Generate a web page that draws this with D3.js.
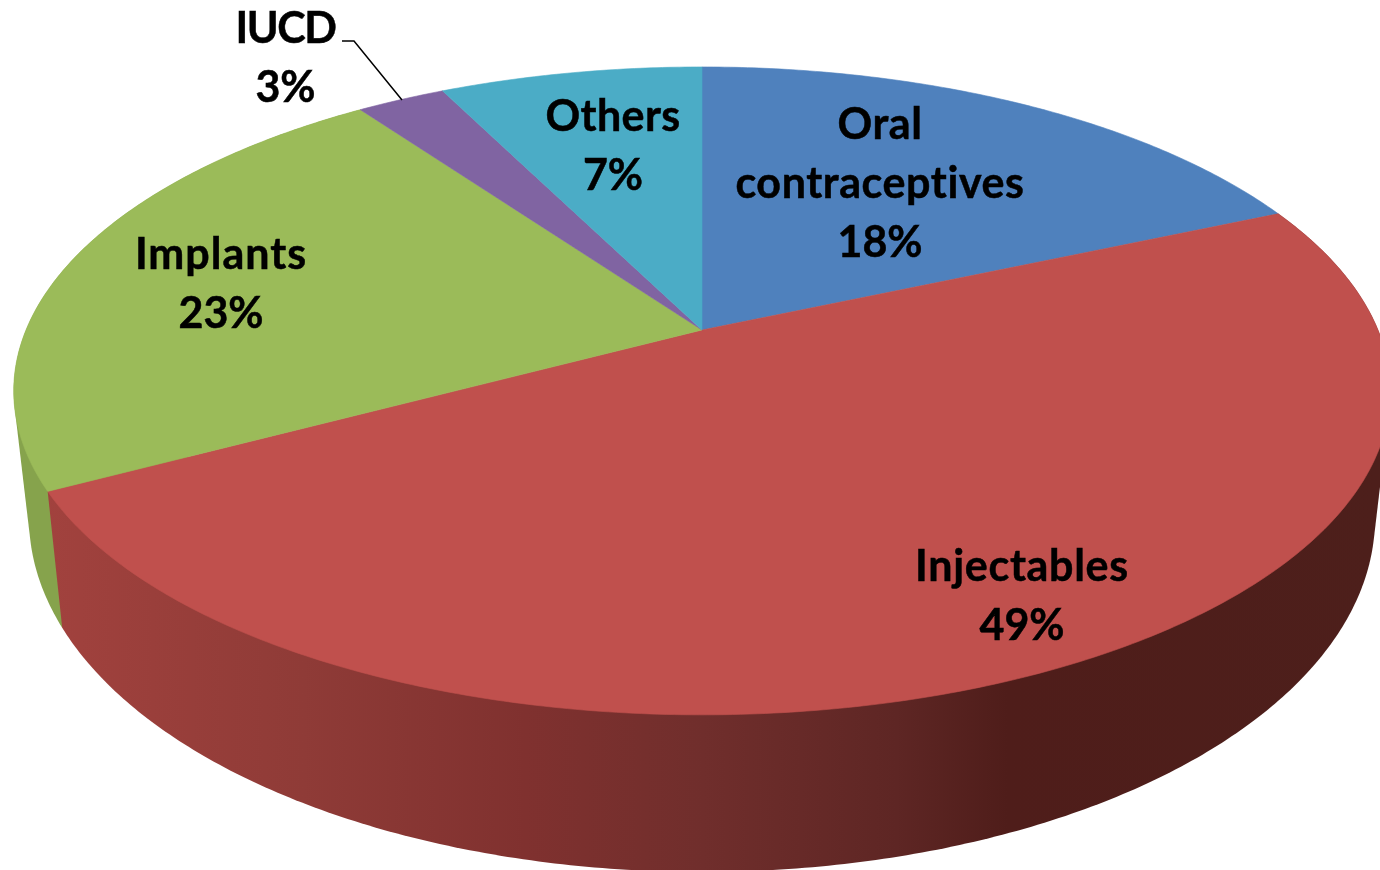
<!DOCTYPE html>
<meta charset="utf-8">
<style>
html, body { margin: 0; background: #fff; overflow: hidden; }
svg { display: block; filter: blur(0.5px); }
text {
    font-family: Lato, "Open Sans", sans-serif;
    font-weight: 700;
    font-size: 43px;
    font-variant-ligatures: none;
    fill: #000;
    stroke: #000;
    stroke-width: 0.5px;
}
</style>
<svg width="1380" height="870"></svg>
<script src="https://d3js.org/d3.v7.min.js"></script>
<script>

var categories = ["Oral contraceptives", "Injectables", "Implants", "IUCD", "Others"];
var shares = [18.45, 48.75, 22.9, 2.5, 7.4];
var colors = ["#4f81bd", "#c0504d", "#9bbb59", "#8064a2", "#4bacc6"];

// label lines and where each block is centred
var labelLines = [["Oral", "contraceptives"], ["Injectables"], ["Implants"], ["IUCD"], ["Others"]];
var labelAt = [[880, 139], [1022, 581], [221, 269], [285.5, 43], [613, 131]];
var labelSpacing = [0.6, 0.7, 1, -1.5, 0.4];

var svg = d3.select("svg");

// perspective disc: top face and the (hidden) lower rim of the pie
var topFace = { cx: 702, cy: 330, rx: 676, ry: 312.5 };
var lowFace = { cx: 702, cy: 451.4, rx: 661, ry: 341.5 };
var tilt = 0.188;

function project(face, a) {
    var u = Math.sin(a), v = Math.cos(a), w = 1 + tilt * v;
    return [face.cx + face.rx * u / w, face.cy - face.ry * v / w];
}

function arcPoints(face, a0, a1) {
    var n = Math.ceil((a1 - a0) / 0.01);
    return d3.range(n + 1).map(function(i) {
        return project(face, a0 + (a1 - a0) * i / n);
    });
}

var slices = d3.pie().sort(null).startAngle(0).endAngle(2 * Math.PI)(shares);

var defs = svg.append("defs");
var wallGrad = defs.append("linearGradient")
    .attr("id", "wall")
    .attr("gradientUnits", "userSpaceOnUse")
    .attr("x1", 0).attr("x2", 1380).attr("y1", 0).attr("y2", 0);
[[0.03, "#a2423e"], [0.22, "#8f3b37"], [0.38, "#80312f"], [0.51, "#702e2c"],
 [0.65, "#5e2624"], [0.73, "#4f1d1a"], [1, "#4d1f1b"]].forEach(function(s) {
    wallGrad.append("stop").attr("offset", s[0]).attr("stop-color", s[1]);
});

var line = d3.line();

function wallPath(d) {
    var pts = arcPoints(topFace, d.startAngle, d.endAngle)
        .concat(arcPoints(lowFace, d.startAngle, d.endAngle));
    return line(d3.polygonHull(pts)) + "Z";
}

// side walls, only the implants and injectables sides face the viewer
var walls = svg.append("g");
walls.append("path").attr("d", wallPath(slices[2])).attr("fill", "#86a34c");
walls.append("path").attr("d", wallPath(slices[1])).attr("fill", "url(#wall)");

svg.append("g").selectAll("path")
    .data(slices)
    .enter().append("path")
    .attr("d", function(d) {
        var pts = arcPoints(topFace, d.startAngle, d.endAngle);
        pts.push([topFace.cx, topFace.cy]);
        return line(pts) + "Z";
    })
    .attr("fill", function(d, i) { return colors[i]; })
    .attr("stroke", function(d, i) { return colors[i]; })
    .attr("stroke-width", 0.6);

// leader for the small slice
svg.append("path")
    .attr("d", line([[342, 41], [354, 41], [402, 100]]))
    .attr("fill", "none")
    .attr("stroke", "#000")
    .attr("stroke-width", 1.5);

var labels = svg.append("g").selectAll("text")
    .data(slices)
    .enter().append("text")
    .attr("text-anchor", "middle");

labels.each(function(d, i) {
    var t = d3.select(this),
        rows = labelLines[i].concat([Math.round(d.data) + "%"]);
    rows.forEach(function(r, j) {
        t.append("tspan")
            .attr("x", labelAt[i][0])
            .attr("y", labelAt[i][1] + j * 59)
            .attr("letter-spacing", j < rows.length - 1 ? labelSpacing[i] : 0)
            .text(r);
    });
});

</script>
